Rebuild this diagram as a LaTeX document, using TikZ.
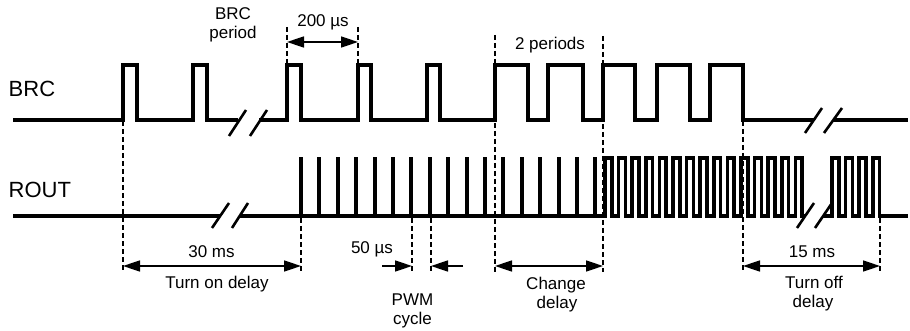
\documentclass[tikz,border=0pt]{standalone}
\usepackage{fontspec}
\setmainfont{Liberation Sans}
\usetikzlibrary{arrows.meta}
\begin{document}
\begin{tikzpicture}[x=1pt,y=-1pt,
  sig/.style={line width=3.7pt, line join=miter},
  spike/.style={line width=4pt},
  brk/.style={line width=2.6pt},
  guide/.style={line width=1.4pt, dash pattern=on 5pt off 3pt},
  dim/.style={line width=1.6pt, {Triangle[length=17pt,width=11pt]}-{Triangle[length=17pt,width=11pt]}},
  dimr/.style={line width=1.6pt, -{Triangle[length=17pt,width=11pt]}},
  lbl/.style={font=\fontsize{17}{20}\selectfont, inner sep=0pt, anchor=base},
  big/.style={font=\fontsize{22}{26}\selectfont, inner sep=0pt, anchor=base west}]
\useasboundingbox (0,0) rectangle (910,331);

% ---- guide lines (dashed)
\coordinate (g1a) at (123,121); \coordinate (g1b) at (123,272);
\coordinate (g2a) at (287,27);  \coordinate (g2b) at (287,63);
\coordinate (g3a) at (358,27);  \coordinate (g3b) at (358,63);
\coordinate (g4a) at (495,35);  \coordinate (g4b) at (495,272);
\coordinate (g5a) at (603,36);  \coordinate (g5b) at (603,272);
\coordinate (g6a) at (743,121); \coordinate (g6b) at (743,272);
\coordinate (g7a) at (301,218); \coordinate (g7b) at (301,272);
\coordinate (g8a) at (412,218); \coordinate (g8b) at (412,272);
\coordinate (g9a) at (431,218); \coordinate (g9b) at (431,272);
\coordinate (g10a) at (880,218); \coordinate (g10b) at (880,272);
\foreach \g in {1,...,10} { \draw[guide] (g\g a) -- (g\g b); }

% ---- BRC signal
\draw[sig] (13,120) -- (123,120) -- (123,65) -- (137,65) -- (137,120)
  -- (193,120) -- (193,65) -- (207,65) -- (207,120) -- (238,120);
\draw[sig] (259,120) -- (287,120) -- (287,65) -- (301,65) -- (301,120)
  -- (358,120) -- (358,65) -- (371,65) -- (371,120)
  -- (427,120) -- (427,65) -- (440,65) -- (440,120)
  -- (495,120) -- (495,65) -- (528,65) -- (528,120)
  -- (548,120) -- (548,65) -- (583,65) -- (583,120)
  -- (603,120) -- (603,65) -- (635,65) -- (635,120)
  -- (657,120) -- (657,65) -- (690,65) -- (690,120)
  -- (710,120) -- (710,65) -- (743,65) -- (743,120) -- (814,120);
\draw[sig] (833,120) -- (908,120);
\draw[brk] (229,136) -- (246,110);
\draw[brk] (250,136) -- (267,110);
\draw[brk] (805,133) -- (822,108);
\draw[brk] (824,133) -- (842,108);

% ---- ROUT signal
\draw[sig] (13,216) -- (220,216);
\draw[sig] (240,216) -- (605,216)
  \foreach \k in {0,...,14} {
    -- ({605+13.6*\k},216) -- ({605+13.6*\k},158)
    -- ({611.8+13.6*\k},158) -- ({611.8+13.6*\k},216) }
  -- (805,216);
\draw[sig] (823,216)
  \foreach \k in {0,...,3} {
    -- ({832+13.6*\k},216) -- ({832+13.6*\k},158)
    -- ({838.8+13.6*\k},158) -- ({838.8+13.6*\k},216) }
  -- (908,216);
\foreach \k in {0,...,16} { \draw[spike] ({301+18.4*\k},217) -- ({301+18.4*\k},157.5); }
\draw[brk] (212,228) -- (229,203);
\draw[brk] (232,228) -- (248,203);
\draw[brk] (797,228) -- (814,203);
\draw[brk] (815,228) -- (832,203);

% ---- dimension arrows
\coordinate (d1a) at (287,42);  \coordinate (d1b) at (358,42);
\coordinate (d2a) at (123,266); \coordinate (d2b) at (301,266);
\coordinate (d3a) at (495,266); \coordinate (d3b) at (603,266);
\coordinate (d4a) at (743,266); \coordinate (d4b) at (880,266);
\coordinate (p1a) at (382,266); \coordinate (p1b) at (412,266);
\coordinate (p2a) at (463,266); \coordinate (p2b) at (431,266);
\draw[dim] (d1a) -- (d1b);
\draw[dim] (d2a) -- (d2b);
\draw[dim] (d3a) -- (d3b);
\draw[dim] (d4a) -- (d4b);
\draw[dimr] (p1a) -- (p1b);
\draw[dimr] (p2a) -- (p2b);

% ---- labels
\node[big] (lbrc) at (8.5,97) {BRC};
\node[big] (lrout) at (8.5,197) {ROUT};
\node[lbl] (bp1) at (233,20) {BRC};
\node[lbl] (bp2) at (233,39) {period};
\node[lbl] (t200) at (323,27) {200 µs};
\node[lbl] (t2p) at (550,49.5) {2 periods};
\node[lbl] (t30) at (211.5,258) {30 ms};
\node[lbl] (ton) at (217,288) {Turn on delay};
\node[lbl] (t50) at (372,253) {50 µs};
\node[lbl] (pwm1) at (412.5,305) {PWM};
\node[lbl] (pwm2) at (412.5,324) {cycle};
\node[lbl] (ch1) at (556,289) {Change};
\node[lbl] (ch2) at (557,308) {delay};
\node[lbl] (t15) at (812,258) {15 ms};
\node[lbl] (tof1) at (814,288) {Turn off};
\node[lbl] (tof2) at (813,307) {delay};
\end{tikzpicture}
\end{document}
